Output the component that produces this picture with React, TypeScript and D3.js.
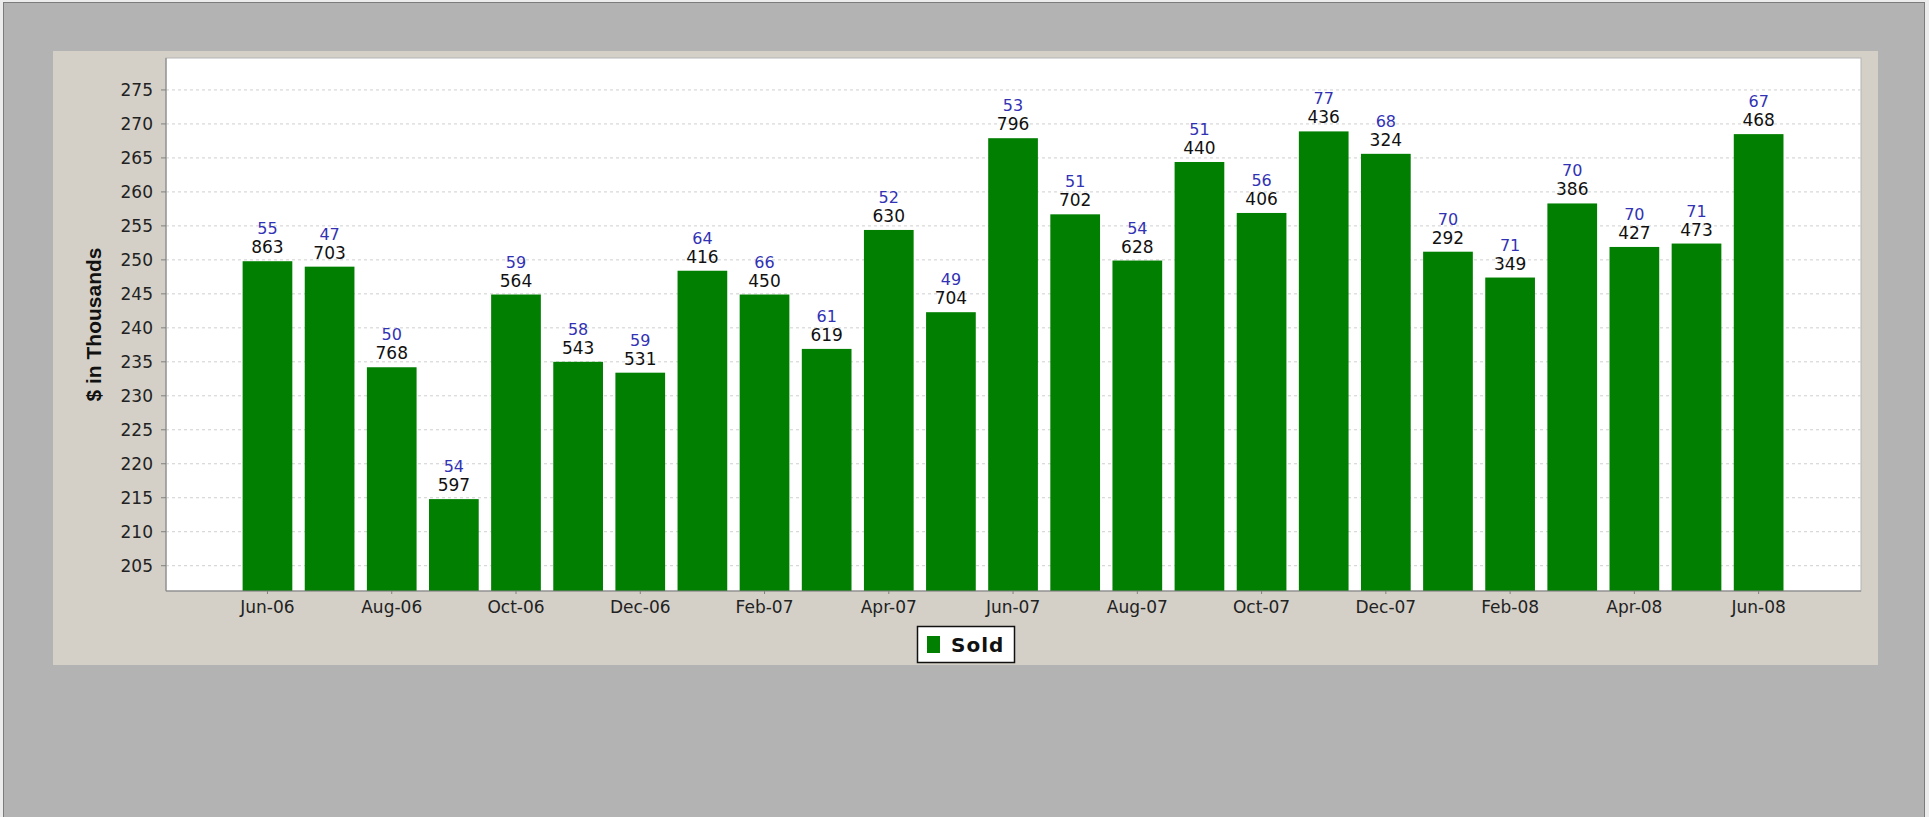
import * as d3 from 'd3';

// months shown on the category axis
const months = [
  'Jun-06', 'Jul-06', 'Aug-06', 'Sep-06', 'Oct-06', 'Nov-06', 'Dec-06',
  'Jan-07', 'Feb-07', 'Mar-07', 'Apr-07', 'May-07', 'Jun-07', 'Jul-07',
  'Aug-07', 'Sep-07', 'Oct-07', 'Nov-07', 'Dec-07',
  'Jan-08', 'Feb-08', 'Mar-08', 'Apr-08', 'May-08', 'Jun-08',
];

// bar heights, $ in thousands
const sold = [
  249.8, 249.0, 234.2, 214.8, 244.9, 235.0, 233.4,
  248.4, 244.9, 236.9, 254.4, 242.3, 267.9, 256.7,
  249.9, 264.4, 256.9, 268.9, 265.6,
  251.2, 247.4, 258.3, 251.9, 252.4, 268.5,
];

// black label over each bar
const amountLabels = [
  '863', '703', '768', '597', '564', '543', '531',
  '416', '450', '619', '630', '704', '796', '702',
  '628', '440', '406', '436', '324',
  '292', '349', '386', '427', '473', '468',
];

// blue label over each bar
const countLabels = [
  '55', '47', '50', '54', '59', '58', '59',
  '64', '66', '61', '52', '49', '53', '51',
  '54', '51', '56', '77', '68',
  '70', '71', '70', '70', '71', '67',
];

const yTicks = d3.range(205, 276, 5);
const xTickLabels = months.filter((_, i) => i % 2 === 0);

const W = 1929;
const H = 817;
const plot = { left: 166, right: 1861, top: 58, bottom: 591 };
const GREEN = '#007f00';
const BLUE = '#3232b4';
const FONT = '"DejaVu Sans", Verdana, sans-serif';

export default function App() {
  const x = d3
    .scaleBand<string>()
    .domain(months)
    .range([236.4, 1789.7])
    .paddingInner(0.2)
    .paddingOuter(0.1);

  const y = d3
    .scaleLinear()
    .domain([201.28, 279.7])
    .range([plot.bottom, plot.top]);

  const bw = x.bandwidth();

  return (
    <svg
      width={W}
      height={H}
      style={{ position: 'absolute', left: 0, top: 0, display: 'block' }}
      fontFamily={FONT}
    >
      <rect x={0} y={0} width={W} height={H} fill="#ececec" />
      <rect x={3.5} y={2.5} width={1921} height={H + 10} fill="#b3b3b3" stroke="#7c7c7c" />

      {/* chart panel */}
      <rect x={53} y={51} width={1825} height={614} fill="#d4d0c8" />

      {/* plot area */}
      <rect
        x={plot.left}
        y={plot.top}
        width={plot.right - plot.left}
        height={plot.bottom - plot.top}
        fill="#ffffff"
        stroke="#b4b4b4"
      />

      {/* grid lines */}
      {yTicks.map((t) => (
        <line
          key={'g' + t}
          x1={plot.left}
          x2={plot.right}
          y1={y(t)}
          y2={y(t)}
          stroke="#cfcfcf"
          strokeDasharray="3,3"
        />
      ))}

      {/* bars */}
      {months.map((m, i) => (
        <rect
          key={m}
          x={x(m)}
          y={y(sold[i])}
          width={bw}
          height={plot.bottom - y(sold[i])}
          fill={GREEN}
        />
      ))}

      {/* bar labels */}
      {months.map((m, i) => {
        const cx = (x(m) as number) + bw / 2;
        const top = y(sold[i]);
        return (
          <g key={'l' + m} textAnchor="middle">
            <text x={cx} y={top - 27} fontSize={16} fill={BLUE}>
              {countLabels[i]}
            </text>
            <text x={cx} y={top - 8} fontSize={17} fill="#111">
              {amountLabels[i]}
            </text>
          </g>
        );
      })}

      {/* axes */}
      <line x1={plot.left} x2={plot.left} y1={plot.top} y2={plot.bottom} stroke="#808080" />
      <line x1={plot.left} x2={plot.right} y1={plot.bottom} y2={plot.bottom} stroke="#808080" />

      {yTicks.map((t) => (
        <g key={'y' + t}>
          <line x1={plot.left - 5} x2={plot.left} y1={y(t)} y2={y(t)} stroke="#808080" />
          <text
            x={plot.left - 13}
            y={y(t)}
            dy="0.36em"
            textAnchor="end"
            fontSize={17}
            fill="#222"
          >
            {t}
          </text>
        </g>
      ))}

      {xTickLabels.map((m) => {
        const cx = (x(m) as number) + bw / 2;
        return (
          <g key={'x' + m}>
            <line x1={cx} x2={cx} y1={plot.bottom} y2={plot.bottom + 3} stroke="#808080" />
            <text x={cx} y={613} textAnchor="middle" fontSize={17} fill="#222">
              {m}
            </text>
          </g>
        );
      })}

      <text
        transform={`translate(101, ${(plot.top + plot.bottom) / 2}) rotate(-90)`}
        textAnchor="middle"
        fontFamily='"Liberation Sans", Arial, sans-serif'
        fontWeight="bold"
        fontSize={21}
        fill="#111"
      >
        $ in Thousands
      </text>

      {/* legend */}
      <rect x={917.5} y={626.5} width={97} height={36} fill="#ffffff" stroke="#111" strokeWidth={1.5} />
      <rect x={927} y={636} width={13} height={17} fill={GREEN} />
      <text x={951} y={652} fontSize={20} fontWeight="bold" letterSpacing={1} fill="#111">
        Sold
      </text>
    </svg>
  );
}
